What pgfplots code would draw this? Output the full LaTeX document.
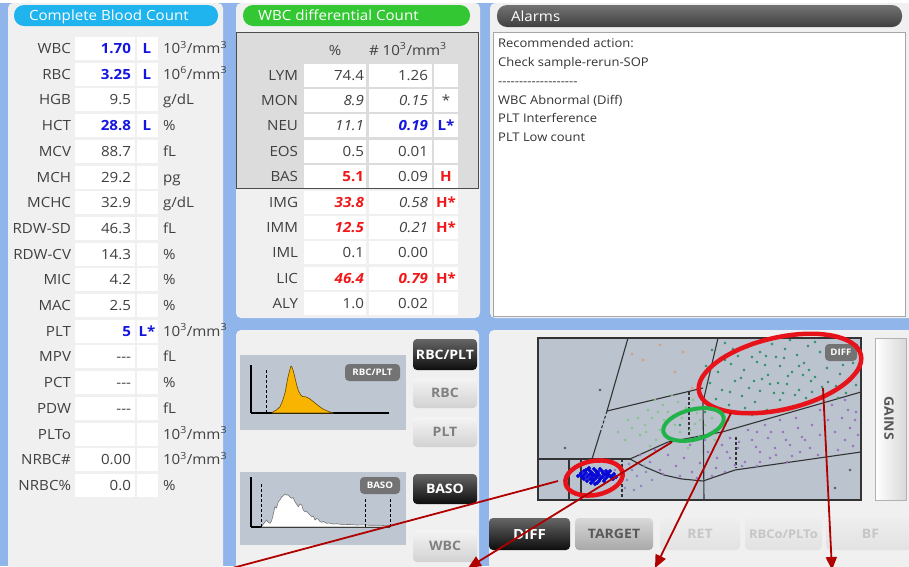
\documentclass[border=0pt]{standalone}
\usepackage{pgfplots}
\pgfplotsset{compat=1.18}
\usetikzlibrary{arrows.meta}
\usepackage{fontspec}
\setmainfont{Open Sans}[FakeStretch=1.08]
\definecolor{frameblue}{HTML}{8FB5EA}
\definecolor{panelgray}{HTML}{F0F0F0}
\definecolor{boxgray}{HTML}{DCDCDC}
\definecolor{histbg}{HTML}{BEC6D1}
\definecolor{scatbg}{HTML}{BAC3CE}
\definecolor{pillcyan}{HTML}{1FB4EE}
\definecolor{pillgreen}{HTML}{33C833}
\definecolor{labgray}{HTML}{404040}
\definecolor{valblue}{HTML}{1515E0}
\definecolor{valred}{HTML}{F01818}
\definecolor{arrowred}{HTML}{B00000}
\definecolor{ellred}{HTML}{E8131A}
\definecolor{ellgreen}{HTML}{22B24A}
\definecolor{histyellow}{HTML}{F8B400}
\definecolor{dotgreen}{HTML}{2F9068}
\definecolor{dotlgreen}{HTML}{86C486}
\definecolor{dotpurple}{HTML}{9A70C0}
\definecolor{dotblue}{HTML}{0808D8}
\definecolor{dotgrayblue}{HTML}{8088C4}
\definecolor{dotorange}{HTML}{E09A70}
\definecolor{btntopL}{HTML}{F4F4F4}
\definecolor{btnbotL}{HTML}{D2D2D2}
\definecolor{btntopT}{HTML}{D8D8D8}
\definecolor{btnbotT}{HTML}{A8A8A8}
\definecolor{btntopF}{HTML}{EEEEEE}
\definecolor{btnbotF}{HTML}{E2E2E2}
\newcommand{\fsz}[1]{\fontsize{#1}{#1}\selectfont}
\newcommand{\tcu}{10\textsuperscript{3}/mm\textsuperscript{3}}
\newcommand{\tsu}{10\textsuperscript{6}/mm\textsuperscript{3}}
\newcommand{\bl}[1]{{\bfseries\color{valblue}#1}}
\newcommand{\rd}[1]{{\bfseries\color{valred}#1}}
\newcommand{\rdi}[1]{{\bfseries\itshape\color{valred}#1}}
\newcommand{\bli}[1]{{\bfseries\itshape\color{valblue}#1}}
\newcommand{\hy}{-\kern0pt}
% left table row: y, label, value, flag, unit
\newcommand{\lrow}[5]{%
  \fill[white] (75,-#1+11.5) rectangle (135,-#1-11.5);
  \fill[white] (137,-#1+11.5) rectangle (158,-#1-11.5);
  \node[anchor=base east] at (71,-#1-5) {#2};
  \node[anchor=base east] at (131,-#1-5) {#3};
  \node[anchor=base] at (147,-#1-5) {#4};
  \node[anchor=base west] at (163,-#1-5) {#5};
}
% middle table row: y, label, v1, v2, flag
\newcommand{\mrow}[5]{%
  \fill[white] (304,-#1+11.5) rectangle (366,-#1-11.5);
  \fill[white] (369,-#1+11.5) rectangle (432,-#1-11.5);
  \fill[white] (434,-#1+11.5) rectangle (458,-#1-11.5);
  \node[anchor=base east] at (298,-#1-5) {#2};
  \node[anchor=base east] at (364,-#1-5) {#3};
  \node[anchor=base east] at (428,-#1-5) {#4};
  \node[anchor=base] at (446,-#1-5) {#5};
}
\newcommand{\btnblack}[6]{%
  \shade[top color=black!60, bottom color=black!95, rounded corners=4pt] (#1,-#2) rectangle (#3,-#4);
  \node[text=white, font=\bfseries\fsz{#6}] at ({(#1+#3)/2},{-(#2+#4)/2}) {#5};}
% x1 y1 x2 y2 text textcolor topcolor bottomcolor fontsize
\newcommand{\btnlight}[9]{%
  \shade[top color=#7, bottom color=#8, rounded corners=4pt] (#1,-#2) rectangle (#3,-#4);
  \node[text=#6, font=\bfseries\fsz{#9}] at ({(#1+#3)/2},{-(#2+#4)/2}) {#5};}
\begin{document}
\begin{tikzpicture}[x=1pt,y=1pt,every node/.style={inner sep=0pt,outer sep=0pt,text=labgray,font=\fsz{14}}]
\path[use as bounding box] (0,0) rectangle (909,-566);
\coordinate (hA) at (251,-413);
\coordinate (hB) at (251,-527);
\coordinate (sC) at (538,-500);
\fill[frameblue] (0,0) rectangle (909,-566);
\fill[white] (0,0) rectangle (909,-3);
% panels
\fill[panelgray, rounded corners=5pt] (8,-3) rectangle (223,-580);
\fill[panelgray, rounded corners=5pt] (236,-3) rectangle (480,-318);
\fill[panelgray, rounded corners=5pt] (490,-3) rectangle (915,-318);
\fill[panelgray, rounded corners=5pt] (236,-330) rectangle (479,-580);
\fill[panelgray, rounded corners=5pt] (489,-330) rectangle (915,-580);
% pills
\fill[pillcyan, rounded corners=10pt] (14,-5) rectangle (218,-26);
\node[anchor=base west, text=white] at (29,-20.5) {Complete Blood Count};
\fill[pillgreen, rounded corners=10pt] (243,-5) rectangle (470,-26);
\node[anchor=base west, text=white] at (258,-20.5) {WBC differential Count};
\shade[top color=black!55, bottom color=black!75, rounded corners=10pt] (497,-5) rectangle (902,-27);
\node[anchor=base west, text=white] at (511,-21) {Alarms};
% alarm box
\filldraw[fill=white, draw=gray!70] (493,-32) rectangle (905,-316);
\begin{scope}[every node/.style={inner sep=0pt,anchor=base west,text=black!80,font=\fsz{12}}]
\node at (498,-47.5) {Recommended action:};
\node at (498,-66.5) {Check sample-rerun-SOP};
\node at (498,-85) {\hy\hy\hy\hy\hy\hy\hy\hy\hy\hy\hy\hy\hy\hy\hy\hy\hy\hy\hy};
\node at (498,-104.5) {WBC Abnormal (Diff)};
\node at (498,-122.5) {PLT Interference};
\node at (498,-141.5) {PLT Low count};
\end{scope}
% left table
\lrow{48.5}{WBC}{\bl{1.70}}{\bl{L}}{\tcu}
\lrow{74.2}{RBC}{\bl{3.25}}{\bl{L}}{\tsu}
\lrow{99.9}{HGB}{9.5}{}{g/dL}
\lrow{125.6}{HCT}{\bl{28.8}}{\bl{L}}{\%}
\lrow{151.3}{MCV}{88.7}{}{fL}
\lrow{177}{MCH}{29.2}{}{pg}
\lrow{202.7}{MCHC}{32.9}{}{g/dL}
\lrow{228.4}{RDW-SD}{46.3}{}{fL}
\lrow{254.1}{RDW-CV}{14.3}{}{\%}
\lrow{279.8}{MIC}{4.2}{}{\%}
\lrow{305.5}{MAC}{2.5}{}{\%}
\lrow{331.2}{PLT}{\bl{5}}{\bl{L*}}{\tcu}
\lrow{356.9}{MPV}{-\kern0pt-\kern0pt-}{}{fL}
\lrow{382.6}{PCT}{-\kern0pt-\kern0pt-}{}{\%}
\lrow{408.3}{PDW}{-\kern0pt-\kern0pt-}{}{fL}
\lrow{434}{PLTo}{}{}{\tcu}
\lrow{459.7}{NRBC\#}{0.00}{}{\tcu}
\lrow{485.4}{NRBC\%}{0.0}{}{\%}
% middle table
\filldraw[fill=boxgray, draw=black!70, line width=1pt] (236,-32) rectangle (478,-188);
\node[anchor=base] at (335,-55) {\%};
\node[anchor=base west] at (369,-55) {\# \tcu};
\mrow{75}{LYM}{74.4}{1.26}{}
\mrow{100.4}{MON}{\itshape 8.9}{\itshape 0.15}{*}
\mrow{125.8}{NEU}{\itshape 11.1}{\bli{0.19}}{\bl{L*}}
\mrow{151.2}{EOS}{0.5}{0.01}{}
\mrow{176.6}{BAS}{\rd{5.1}}{0.09}{\rd{H}}
\mrow{202}{IMG}{\rdi{33.8}}{\itshape 0.58}{\rd{H*}}
\mrow{227.4}{IMM}{\rdi{12.5}}{\itshape 0.21}{\rd{H*}}
\mrow{252.8}{IML}{0.1}{0.00}{}
\mrow{278.2}{LIC}{\rdi{46.4}}{\rdi{0.79}}{\rd{H*}}
\mrow{303.6}{ALY}{1.0}{0.02}{}
% histogram panels
\fill[histbg] (240,-355) rectangle (406,-430);
\fill[histbg] (240,-472) rectangle (406,-545);
\begin{axis}[at={(hA)}, anchor=south west, width=138pt, height=48pt, scale only axis,
  xmin=0, xmax=138, ymin=0, ymax=48, axis lines=left, axis line style={-, black, line width=1.3pt}, ticks=none, clip=false]
\addplot[fill=histyellow, draw=black!60!histyellow, line width=0.6pt] coordinates {
(21,0)(22.3,1.3)(26,3.5)(29,6.3)(31.5,12)(34,20)(35.5,28)(37,36)(38.5,42)(40,47)(41,46)(42,43)(44,35)(45.7,28)(47.5,22)(49.7,18)(51.5,16.5)(54,16.3)(56.5,15.5)(59,14)(61.5,12)(64,10)(66.5,8)(69,6)(72,4)(75.7,2.3)(78,1.3)(80.7,0.7)(82,0)} \closedcycle;
\addplot[black, line width=1pt, dash pattern=on 3pt off 2pt] coordinates {(15,0)(15,43)};
\end{axis}
\begin{axis}[at={(hB)}, anchor=south west, width=139pt, height=50pt, scale only axis,
  xmin=0, xmax=139, ymin=0, ymax=50, axis lines=left, axis line style={-, black, line width=1.3pt}, ticks=none, clip=false]
\addplot[fill=white, draw=black!55, line width=0.6pt] coordinates {
(10,0)(12.3,3)(14,5)(15.7,7)(17,5)(19,3.7)(20.5,6)(21.7,10.3)(23,16)(24,20.3)(25.5,19)(27.3,25.3)(29,27)(30.7,30.3)(32,31)(34,33)(35.5,32)(37.3,32)(39,30)(40.7,28.7)(42,29.5)(44,25.3)(45.5,23)(47.3,20.3)(49,23)(50.7,22)(52.3,17)(54,15.3)(55.5,16)(57.3,13.7)(59,12)(60.7,10.3)(62.3,11)(64,7)(65.7,8.5)(67.3,7.7)(69,5.5)(70.7,4.7)(72.5,5.5)(75.7,3.7)(78,4)(82.3,3)(86,3.3)(92,2.3)(98,2.6)(105.7,2)(112,2.2)(119,1.7)(127,1.8)(135.7,1.3)(139,1.2)} \closedcycle;
\addplot[black, line width=1pt, dash pattern=on 3pt off 2pt] coordinates {(10,0)(10,44)};
\addplot[black, line width=1pt, dash pattern=on 3pt off 2pt] coordinates {(114,0)(114,30)};
\addplot[black, line width=1pt, dash pattern=on 3pt off 2pt] coordinates {(139,0)(139,30)};
\end{axis}
\fill[black!55, rounded corners=4pt] (345,-364) rectangle (400,-381);
\node[text=white, font=\bfseries\fsz{9}] at (372.5,-372.5) {RBC/PLT};
\fill[black!55, rounded corners=4pt] (360,-477) rectangle (400,-494);
\node[text=white, font=\bfseries\fsz{9}] at (380,-485.5) {BASO};
% buttons middle
\btnblack{413}{339}{477}{370}{RBC/PLT}{13}
\btnlight{413}{378}{477}{408}{RBC}{gray}{btntopL}{btnbotL}{13}
\btnlight{413}{417}{477}{447}{PLT}{gray}{btntopL}{btnbotL}{13}
\btnblack{413}{474}{477}{504}{BASO}{13}
\btnlight{413}{530}{477}{562}{WBC}{gray}{btntopL}{btnbotL}{13}
% scatter (rows given as pixel rows, flipped by the y filter)
\begin{axis}[at={(sC)}, anchor=south west, width=323pt, height=162pt, scale only axis,
  xmin=538, xmax=861, ymin=-500, ymax=-338, ticks=none,
  axis background/.style={fill=scatbg}, axis line style={draw=black!80, line width=1.2pt},
  y filter/.code={\pgfmathparse{-#1}}]
% region boundaries
\addplot[black!80, line width=1.1pt] coordinates {(628,338)(607,411)};
\addplot[black!80, line width=1.1pt, dash pattern=on 3pt off 2pt] coordinates {(607,411)(601,430)};
\addplot[black!80, line width=1.1pt] coordinates {(601,430)(592,459)};
\addplot[black!80, line width=1.1pt] coordinates {(718,338)(703,402)(704,500)};
\addplot[black!80, line width=1.1pt] coordinates {(607,411)(703,388)};
\addplot[black!80, line width=1.1pt] coordinates {(538,459)(630,459)};
\addplot[black!80, line width=1.1pt] coordinates {(630,459)(650,450)(668,442)(722,432)(861,392)};
\addplot[black!80, line width=1.1pt] coordinates {(630,459)(645,467)(664,475)(682,479)(703,481)(735,470)(861,452)};
\addplot[black!80, line width=1.1pt] coordinates {(569,459)(569,500)};
\addplot[black!80, line width=1.1pt] coordinates {(581,459)(581,500)};
\addplot[black!80, line width=1.1pt, dash pattern=on 3pt off 2pt] coordinates {(622,459)(622,500)};
\addplot[black!80, line width=1.1pt, dash pattern=on 3pt off 2pt] coordinates {(689,392)(689,435)};
\addplot[black!80, line width=1.1pt, dash pattern=on 3pt off 2pt] coordinates {(736,437)(736,468)};
% dots
\addplot[only marks, mark=*, mark size=1.1pt, color=dotorange] coordinates {(632,354)(643,360)(675,372)(692,388)(660,345)(683,352)};
\addplot[only marks, mark=*, mark size=1.1pt, color=gray!70!black] coordinates {(565,448)(600,390)(850,470)(835,488)};
\addplot[only marks, mark=*, mark size=1.1pt, color=dotlgreen] coordinates {
(645,425)(652,418)(660,430)(668,412)(675,425)(682,418)(690,430)(697,413)(656,440)(670,438)(685,440)(648,410)(663,405)(678,402)(693,400)(700,420)(640,435)(688,448)(705,425)(712,418)(715,440)(707,408)(632,428)(625,440)(638,418)(655,400)(672,395)(699,437)(618,432)(664,420)(680,432)(695,424)(646,432)(658,412)(673,418)(686,408)(628,420)(650,446)};
\addplot[only marks, mark=*, mark size=1.1pt, color=dotgreen] coordinates {
(712,350)(725,343)(738,356)(748,347)(760,352)(772,344)(785,349)(797,355)(808,346)(820,352)(833,358)(845,349)(853,363)(706,366)(718,372)(731,364)(744,370)(757,362)(768,375)(780,366)(792,372)(804,363)(815,377)(827,368)(840,374)(850,381)(710,383)(722,390)(735,381)(749,388)(762,379)(774,393)(787,384)(799,390)(811,381)(823,395)(836,386)(846,393)(716,399)(729,405)(742,396)(755,402)(767,410)(780,400)(793,406)(806,398)(818,400)(705,412)(737,413)(760,391)(776,357)(790,340)(815,342)(741,378)(765,365)(803,375)(828,382)(843,365)(752,415)(770,384)(795,395)(725,360)(812,392)(858,372)(857,345)(728,420)(745,408)(784,358)(799,366)(831,348)(752,357)(718,409)(783,393)(838,398)(856,385)(694,410)(680,425)(733,349)(766,356)(788,376)(809,370)(822,387)(754,381)(778,383)(730,392)};
\addplot[only marks, mark=*, mark size=1.1pt, color=dotpurple] coordinates {
(650,462)(660,470)(668,455)(676,466)(684,458)(692,472)(700,463)(708,452)(716,468)(722,445)(730,458)(738,448)(745,462)(752,440)(760,452)(768,438)(775,448)(783,432)(790,445)(798,428)(805,440)(812,425)(820,435)(828,420)(835,432)(842,418)(850,428)(856,412)(730,438)(748,430)(765,425)(780,420)(742,466)(725,472)(712,476)(760,462)(776,455)(792,456)(810,448)(826,444)(845,440)(858,435)(640,455)(655,450)(690,445)(705,440)(735,465)(770,458)(800,452)(818,455)(838,450)(853,446)(663,474)(680,476)(697,478)(757,466)(787,462)(845,400)(832,405)(855,420)(820,410)(717,458)(727,452)(739,442)(756,447)(771,432)(786,440)(802,437)(757,432)(796,418)(848,410)};
\addplot[only marks, mark=*, mark size=1.1pt, color=dotgrayblue] coordinates {
(618,466)(622,472)(627,480)(632,470)(637,476)(641,486)(646,472)(652,480)(625,488)(634,490)(620,482)(644,466)(615,470)(629,464)};
\addplot[only marks, mark=*, mark size=1.9pt, color=dotblue] coordinates {
(588,469)(594,469)(600,469)(586,470)(589,468)(584,471)(590,471)(596,471)(602,471)(606,471)(598,472)(610,471)
(581,473)(586,473)(592,473)(597,473)(603,473)(608,473)(591,474)(606,474)(614,474)
(580,475)(584,475)(589,475)(594,475)(599,475)(604,475)(609,475)(578,476)(596,476)(612,476)(616,477)
(582,477)(587,477)(592,477)(597,477)(602,477)(607,477)(611,477)(583,478)(601,478)(613,479)
(584,479)(590,479)(595,479)(600,479)(605,479)(593,480)(587,481)(593,481)(599,481)(604,481)(591,483)(597,483)(595,484)};
\end{axis}
\fill[black!55, rounded corners=4pt] (825,-344) rectangle (857,-361);
\node[text=white, font=\bfseries\fsz{9}] at (841,-352.5) {DIFF};
% GAINS
\shade[left color=white, right color=gray!30] (875,-338) rectangle (906,-500);
\draw[gray!60] (875,-338) rectangle (906,-500);
\node[rotate=-90, text=black!65, font=\bfseries\fsz{13}] at (889,-418) {GAINS};
% bottom buttons
\btnblack{489}{518}{570}{550}{DIFF}{14}
\btnlight{575}{518}{653}{550}{TARGET}{black!65}{btntopT}{btnbotT}{13}
\btnlight{660}{518}{740}{550}{RET}{gray!45}{btntopF}{btnbotF}{13}
\btnlight{745}{518}{822}{550}{RBCo/PLTo}{gray!45}{btntopF}{btnbotF}{12}
\btnlight{826}{518}{915}{550}{BF}{gray!45}{btntopF}{btnbotF}{13}
% ellipses
\draw[ellred, line width=4.5pt, rotate around={13:(780,-373.5)}] (780,-373.5) ellipse [x radius=83, y radius=36];
\draw[ellgreen, line width=4pt, rotate around={14:(693.5,-424.5)}] (693.5,-424.5) ellipse [x radius=31, y radius=15];
\draw[ellred, line width=4.5pt, rotate around={11:(594,-478)}] (594,-478) ellipse [x radius=29, y radius=17];
% arrows
\draw[arrowred, line width=1.8pt] (558,-481) -- (225,-570);
\draw[arrowred, line width=1.8pt, -{Triangle[length=13pt,width=11pt]}] (672,-442) -- (468,-568);
\draw[arrowred, line width=1.8pt, -{Triangle[length=13pt,width=11pt]}] (731,-413) -- (655,-568);
\draw[arrowred, line width=1.8pt, -{Triangle[length=13pt,width=11pt]}] (823,-388) -- (832,-570);
\end{tikzpicture}
\end{document}
